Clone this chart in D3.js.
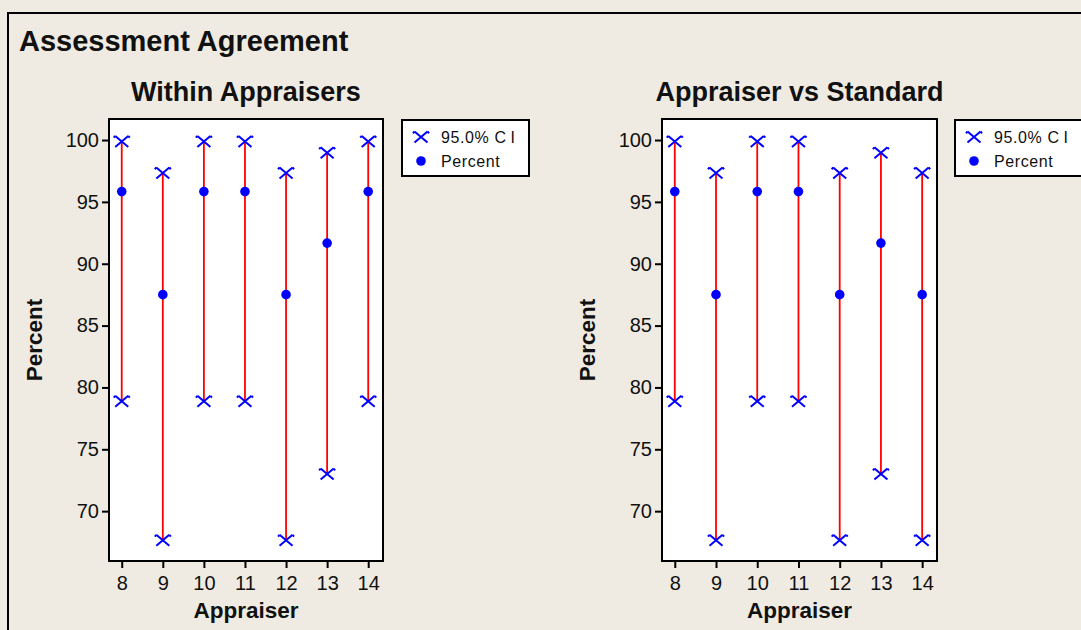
<!DOCTYPE html>
<html>
<head>
<meta charset="utf-8">
<script src="https://cdn.jsdelivr.net/npm/d3@7/dist/d3.min.js"></script>
<style>
  html, body { margin: 0; padding: 0; background: #efebe2; }
  svg { display: block; }
  text { font-family: "Liberation Sans", Arial, sans-serif; fill: #111; }
</style>
</head>
<body>
<svg id="chart" width="1081" height="630"></svg>
<script>
// Appraisers on the x axis
const appraisers = [8, 9, 10, 11, 12, 13, 14];

// Within Appraisers: percent agreement and 95% CI bounds
const withinPercent = [95.83, 87.50, 95.83, 95.83, 87.50, 91.67, 95.83];
const withinLower   = [78.88, 67.64, 78.88, 78.88, 67.64, 73.00, 78.88];
const withinUpper   = [99.89, 97.34, 99.89, 99.89, 97.34, 98.97, 99.89];

// Appraiser vs Standard: percent agreement and 95% CI bounds
const stdPercent = [95.83, 87.50, 95.83, 95.83, 87.50, 91.67, 87.50];
const stdLower   = [78.88, 67.64, 78.88, 78.88, 67.64, 73.00, 67.64];
const stdUpper   = [99.89, 97.34, 99.89, 99.89, 97.34, 98.97, 97.34];

const yTicks = [70, 75, 80, 85, 90, 95, 100];

const svg = d3.select("#chart");

// outer frame
svg.append("rect")
  .attr("x", 8).attr("y", 13).attr("width", 1090).attr("height", 640)
  .attr("fill", "#efebe2").attr("stroke", "#000").attr("stroke-width", 2);

svg.append("text")
  .attr("x", 19).attr("y", 51)
  .attr("font-size", 29).attr("font-weight", "bold")
  .text("Assessment Agreement");

// X marker with small hooks on the upper arms
function crossPath(cx, cy) {
  const w = 6.5, h = 5.5;
  return `M${cx - w},${cy - h}L${cx + w},${cy + h}` +
         `M${cx + w},${cy - h}L${cx - w},${cy + h}` +
         `M${cx - w},${cy - h}l-1.5,1.8` +
         `M${cx + w},${cy - h}l1.5,1.8`;
}

function panel(opts) {
  const { left, right, top, bottom, title, pct, lo, hi, legendX } = opts;
  const g = svg.append("g");
  const x = d3.scaleLinear().domain([7.69, 14.36]).range([left, right]);
  const y = d3.scaleLinear().domain([65.97, 101.7]).range([bottom, top]);

  g.append("rect")
    .attr("x", left).attr("y", top)
    .attr("width", right - left).attr("height", bottom - top)
    .attr("fill", "#fff");

  // CI lines
  g.selectAll("line.ci").data(appraisers).enter().append("line")
    .attr("x1", d => x(d)).attr("x2", d => x(d))
    .attr("y1", (d, i) => y(lo[i])).attr("y2", (d, i) => y(hi[i]))
    .attr("stroke", "#ff0000").attr("stroke-width", 1.8);

  // CI end markers
  const ends = [];
  appraisers.forEach((d, i) => { ends.push([d, lo[i]]); ends.push([d, hi[i]]); });
  g.selectAll("path.end").data(ends).enter().append("path")
    .attr("d", d => crossPath(x(d[0]), y(d[1])))
    .attr("fill", "none").attr("stroke", "#0000ff").attr("stroke-width", 2);

  // percent points
  g.selectAll("circle.pt").data(appraisers).enter().append("circle")
    .attr("cx", d => x(d)).attr("cy", (d, i) => y(pct[i]))
    .attr("r", 4.8).attr("fill", "#0000ff");

  // plot border
  g.append("rect")
    .attr("x", left).attr("y", top)
    .attr("width", right - left).attr("height", bottom - top)
    .attr("fill", "none").attr("stroke", "#000").attr("stroke-width", 2);

  const xAxis = g.append("g").attr("transform", `translate(0,${bottom})`)
    .call(d3.axisBottom(x).tickValues(appraisers).tickSize(7).tickPadding(8).tickFormat(d3.format("d")));
  const yAxis = g.append("g").attr("transform", `translate(${left},0)`)
    .call(d3.axisLeft(y).tickValues(yTicks).tickSize(7).tickPadding(3).tickFormat(d3.format("d")));
  [xAxis, yAxis].forEach(a => {
    a.select(".domain").remove();
    a.selectAll(".tick line").attr("stroke", "#000").attr("stroke-width", 2);
    a.selectAll(".tick text").attr("font-size", 20)
      .attr("font-family", "'Liberation Sans', Arial, sans-serif").attr("fill", "#111");
  });

  const cx = (left + right) / 2;
  g.append("text").attr("x", cx).attr("y", 101)
    .attr("text-anchor", "middle").attr("font-size", 27).attr("font-weight", "bold")
    .text(title);
  g.append("text").attr("x", cx).attr("y", 618)
    .attr("text-anchor", "middle").attr("font-size", 22.5).attr("font-weight", "bold")
    .text("Appraiser");
  g.append("text")
    .attr("transform", `translate(${left - 67},${(top + bottom) / 2}) rotate(-90)`)
    .attr("text-anchor", "middle").attr("font-size", 22.5).attr("font-weight", "bold")
    .text("Percent");

  // legend
  const lg = svg.append("g").attr("transform", `translate(${legendX},120)`);
  lg.append("rect").attr("width", 127).attr("height", 56)
    .attr("fill", "#fff").attr("stroke", "#000").attr("stroke-width", 2);
  lg.append("path").attr("d", crossPath(19, 17))
    .attr("fill", "none").attr("stroke", "#0000ff").attr("stroke-width", 2);
  lg.append("circle").attr("cx", 19).attr("cy", 41).attr("r", 4.8).attr("fill", "#0000ff");
  const ciText = lg.append("text").attr("x", 39).attr("y", 23)
    .attr("font-size", 16).attr("letter-spacing", 0.6);
  ciText.append("tspan").text("95.0% C");
  ciText.append("tspan").attr("dx", 4).text("I");
  lg.append("text").attr("x", 39).attr("y", 47)
    .attr("font-size", 16).attr("letter-spacing", 0.6)
    .text("Percent");
}

panel({ left: 109, right: 383, top: 119, bottom: 561, title: "Within Appraisers",
        pct: withinPercent, lo: withinLower, hi: withinUpper, legendX: 402 });
panel({ left: 662, right: 937, top: 119, bottom: 561, title: "Appraiser vs Standard",
        pct: stdPercent, lo: stdLower, hi: stdUpper, legendX: 955 });
</script>
</body>
</html>
